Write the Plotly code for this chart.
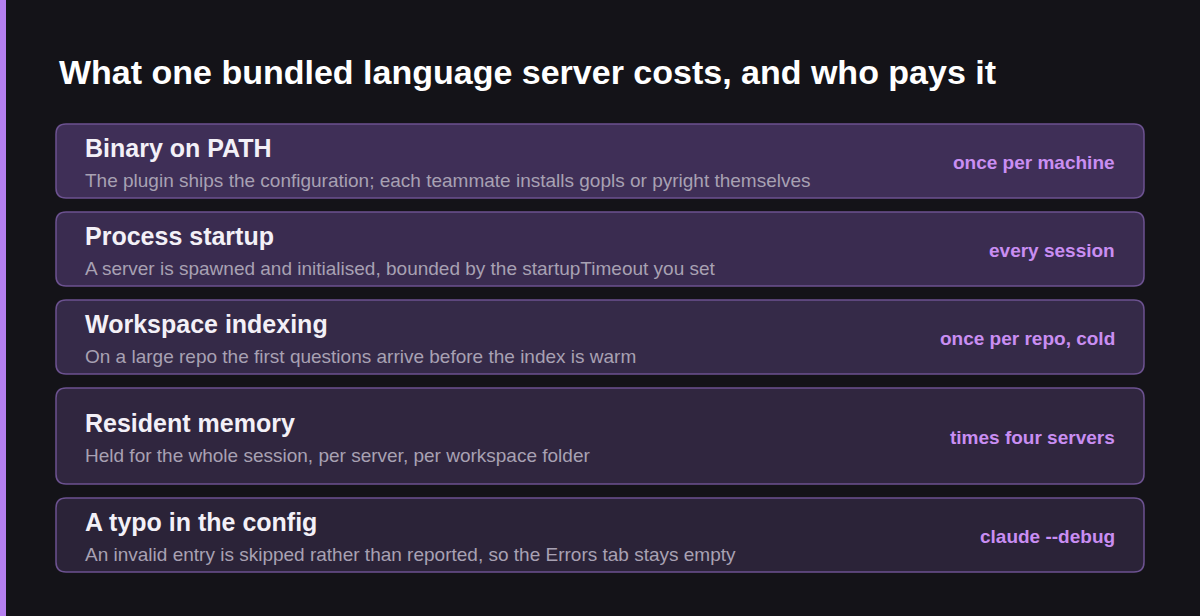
import plotly.graph_objects as go

W, H = 1200, 616

titles = ["Binary on PATH", "Process startup", "Workspace indexing", "Resident memory", "A typo in the config"]
descriptions = [
    "The plugin ships the configuration; each teammate installs gopls or pyright themselves",
    "A server is spawned and initialised, bounded by the startupTimeout you set",
    "On a large repo the first questions arrive before the index is warm",
    "Held for the whole session, per server, per workspace folder",
    "An invalid entry is skipped rather than reported, so the Errors tab stays empty",
]
costs = ["once per machine", "every session", "once per repo, cold", "times four servers", "claude --debug"]
row_heights = [74, 74, 74, 96, 74]
fills = ["#3f2f57", "#3a2c50", "#352a48", "#30263f", "#2b2338"]

FONT = "Liberation Sans, Arial, sans-serif"


def rounded_rect(x0, y0, x1, y1, r):
    return (f"M{x0+r},{y0} L{x1-r},{y0} Q{x1},{y0} {x1},{y0+r} L{x1},{y1-r} Q{x1},{y1} {x1-r},{y1} "
            f"L{x0+r},{y1} Q{x0},{y1} {x0},{y1-r} L{x0},{y0+r} Q{x0},{y0} {x0+r},{y0} Z")


fig = go.Figure()
shapes = [dict(type="rect", x0=0, x1=6, y0=0, y1=H, fillcolor="#b57ff0", line_width=0, layer="below")]
annotations = [dict(x=57, y=72, text="<b>What one bundled language server costs, and who pays it</b>",
                    showarrow=False, xanchor="left", yanchor="middle",
                    font=dict(family=FONT, size=34, color="#ffffff"))]

top = 124
for t, d, c, h, f in zip(titles, descriptions, costs, row_heights, fills):
    shapes.append(dict(type="path", path=rounded_rect(56, top, 1144, top + h, 10),
                       fillcolor=f, line=dict(color="#6c5290", width=1.5), layer="below"))
    mid = top + h / 2
    annotations.append(dict(x=83, y=mid - 13, text=f"<b>{t}</b>", showarrow=False, xanchor="left",
                            yanchor="middle", font=dict(family=FONT, size=25, color="#f3f0f7")))
    annotations.append(dict(x=83, y=mid + 19, text=d, showarrow=False, xanchor="left",
                            yanchor="middle", font=dict(family=FONT, size=19, color="#a8a1b3")))
    annotations.append(dict(x=1117, y=mid + 1, text=f"<b>{c}</b>", showarrow=False, xanchor="right",
                            yanchor="middle", font=dict(family=FONT, size=19, color="#c98ef2")))
    top += h + 14

fig.update_layout(
    width=W, height=H, margin=dict(l=0, r=0, t=0, b=0),
    paper_bgcolor="#141318", plot_bgcolor="#141318",
    xaxis=dict(range=[0, W], visible=False, fixedrange=True),
    yaxis=dict(range=[H, 0], visible=False, fixedrange=True),
    shapes=shapes, annotations=annotations, showlegend=False,
)

fig.write_html("out.html", config={"displayModeBar": False},
               post_script="document.body.style.margin='0';document.body.style.background='#141318';")
